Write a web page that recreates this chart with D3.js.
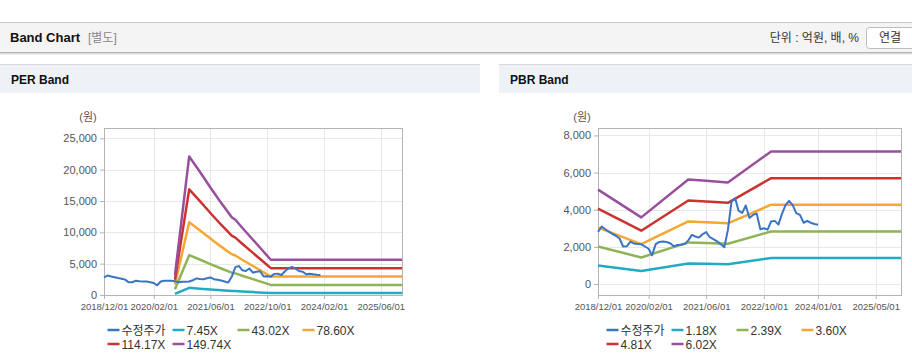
<!DOCTYPE html>
<html>
<head>
<meta charset="utf-8">
<script src="https://cdnjs.cloudflare.com/ajax/libs/d3/7.8.5/d3.min.js"></script>
<style>
body { margin: 0; background: #fff; }
svg { display: block; font-family: 'Liberation Sans', Arial, 'Noto Sans CJK KR', sans-serif; }
</style>
</head>
<body>
<svg id="canvas"></svg>
<script>
// adjusted price (shared by both charts)
let priceDates = [
  '2018-12',
  '2019-01','2019-02','2019-03','2019-04','2019-05','2019-06','2019-07','2019-08','2019-09','2019-10','2019-11','2019-12',
  '2020-01','2020-02','2020-03','2020-04','2020-05','2020-06','2020-07','2020-08','2020-09','2020-10','2020-11','2020-12',
  '2021-01','2021-02','2021-03','2021-04','2021-05','2021-06','2021-07','2021-08','2021-09','2021-10','2021-11','2021-12',
  '2022-01','2022-02','2022-03','2022-04','2022-05','2022-06','2022-07','2022-08','2022-09','2022-10','2022-11','2022-12',
  '2023-01','2023-02','2023-03','2023-04','2023-05','2023-06','2023-07','2023-08','2023-09','2023-10','2023-11','2023-12',
  '2024-01'
]
let prices = [
  2800,
  3100, 2950, 2830, 2700, 2600, 2450, 2020, 2030, 2280, 2180, 2150, 2140,
  2020, 1900, 1550, 2150, 2270, 2290, 2260, 2200, 2030, 2100, 2120, 2150,
  2350, 2650, 2560, 2500, 2680, 2800, 2520, 2420, 2300, 2150, 1980, 2900,
  4450, 4620, 3950, 3830, 4230, 3560, 3720, 3800, 2950, 3000, 2930, 3370,
  3400, 3200, 3750, 4250, 4480, 4250, 3820, 3720, 3300, 3400, 3300, 3230,
  3190
]

// PER band
let perNames = ['7.45X', '43.02X', '78.60X', '114.17X', '149.74X']
let perDates = ['2020-08','2020-12','2021-03','2021-06','2021-09','2021-12','2022-01','2022-03','2022-06','2022-09','2022-11','2025-12']
let per745 = [170, 1150, 1000, 880, 760, 650, 620, 560, 460, 370, 300, 300]
let per4302 = [920, 6350, 5660, 4930, 4225, 3560, 3450, 3080, 2530, 1980, 1615, 1615]
let per7860 = [1680, 11600, 10340, 9000, 7715, 6510, 6300, 5625, 4625, 3620, 2950, 2950]
let per11417 = [2440, 16850, 15020, 13080, 11210, 9455, 9150, 8175, 6720, 5260, 4285, 4285]
let per14974 = [3200, 22100, 19700, 17150, 14700, 12400, 12000, 10720, 8810, 6900, 5620, 5620]
let perYTicks = [0, 5000, 10000, 15000, 20000, 25000]
let perXTicks = ['2018-12','2020-02','2021-06','2022-10','2024-02','2025-06']

// PBR band
let pbrNames = ['1.18X', '2.39X', '3.60X', '4.81X', '6.02X']
let pbrDates = ['2018-12','2019-12','2021-01','2021-06','2021-12','2022-12','2025-12']
let pbr118 = [1000, 700, 1100, 1090, 1070, 1400, 1400]
let pbr239 = [2020, 1430, 2240, 2210, 2170, 2830, 2830]
let pbr360 = [3040, 2150, 3370, 3330, 3270, 4270, 4270]
let pbr481 = [4060, 2870, 4500, 4440, 4370, 5700, 5700]
let pbr602 = [5080, 3590, 5630, 5560, 5470, 7140, 7140]
let pbrYTicks = [0, 2000, 4000, 6000, 8000]
let pbrXTicks = ['2018-12','2020-02','2021-06','2022-10','2024-01','2025-05']

let priceColor = '#3a74c6'
let bandColors = ['#22abc3', '#8fb356', '#f4a733', '#cc3330', '#984f9c']

let width = 912
let height = 364
let parse = d3.timeParse('%Y-%m')

let svg = d3.select('#canvas')
svg.attr('width', width)
svg.attr('height', height)

// header bar
svg.append('rect').attr('x', 0).attr('y', 22).attr('width', width).attr('height', 31).attr('fill', '#f4f4f4')
svg.append('line').attr('x1', 0).attr('x2', width).attr('y1', 22.5).attr('y2', 22.5).attr('stroke', '#c8c8c8')
svg.append('line').attr('x1', 0).attr('x2', width).attr('y1', 52.5).attr('y2', 52.5).attr('stroke', '#b4b4b4')
svg.append('line').attr('x1', 0).attr('x2', width).attr('y1', 53.5).attr('y2', 53.5).attr('stroke', '#dadada')
svg.append('line').attr('x1', 0).attr('x2', width).attr('y1', 54.5).attr('y2', 54.5).attr('stroke', '#eeeeee')
svg.append('text').attr('x', 10).attr('y', 42).attr('font-size', 13).attr('font-weight', 'bold').attr('fill', '#111').text('Band Chart')
svg.append('text').attr('x', 88).attr('y', 42).attr('font-size', 12).attr('fill', '#888').text('[별도]')
svg.append('text').attr('x', 859).attr('y', 42).attr('font-size', 12).attr('fill', '#333').attr('text-anchor', 'end').text('단위 : 억원, 배, %')
svg.append('rect').attr('x', 866.5).attr('y', 27.5).attr('width', 60).attr('height', 21).attr('rx', 3)
  .attr('fill', '#fff').attr('stroke', '#bdbdbd')
svg.append('text').attr('x', 890).attr('y', 42).attr('font-size', 12).attr('fill', '#333').attr('text-anchor', 'middle').text('연결')

let drawPanel = (px, pw, title) => {
  svg.append('rect').attr('x', px).attr('y', 64).attr('width', pw).attr('height', 29).attr('fill', '#eef2f7')
  svg.append('line').attr('x1', px).attr('x2', px + pw).attr('y1', 64.5).attr('y2', 64.5).attr('stroke', '#d9d9d9')
  svg.append('text').attr('x', px + 11).attr('y', 84).attr('font-size', 12).attr('font-weight', 'bold').attr('fill', '#111').text(title)
}

let drawChart = (opt) => {
  let xScale = d3.scaleTime()
    .domain([parse('2018-12'), parse('2025-12')])
    .range([opt.left, opt.right])
  let yScale = d3.scaleLinear()
    .domain(opt.yDomain)
    .range([opt.bottom, opt.top])

  let g = svg.append('g')

  // grid
  g.selectAll('.hgrid').data(opt.yTicks).enter().append('line')
    .attr('x1', opt.left).attr('x2', opt.right)
    .attr('y1', (d) => Math.round(yScale(d)) + 0.5)
    .attr('y2', (d) => Math.round(yScale(d)) + 0.5)
    .attr('stroke', '#e8e8e8')
  g.selectAll('.vgrid').data(opt.xTicks).enter().append('line')
    .attr('x1', (d) => Math.round(xScale(parse(d))) + 0.5)
    .attr('x2', (d) => Math.round(xScale(parse(d))) + 0.5)
    .attr('y1', opt.top).attr('y2', opt.bottom)
    .attr('stroke', '#e8e8e8')

  g.append('rect')
    .attr('x', opt.left + 0.5).attr('y', opt.top + 0.5)
    .attr('width', opt.right - opt.left).attr('height', opt.bottom - opt.top)
    .attr('fill', 'none').attr('stroke', '#b4b4b4')

  let xAxis = d3.axisBottom(xScale)
    .tickValues(opt.xTicks.map(parse))
    .tickFormat(d3.timeFormat('%Y/%m/%d'))
    .tickSize(4).tickSizeOuter(0).tickPadding(4)
  let yAxis = d3.axisLeft(yScale)
    .tickValues(opt.yTicks)
    .tickFormat(d3.format(','))
    .tickSize(4).tickSizeOuter(0).tickPadding(3)

  let gx = g.append('g')
    .attr('transform', 'translate(0,' + opt.bottom + ')')
    .call(xAxis)
  gx.selectAll('text').attr('font-size', 9.5).attr('fill', '#555').attr('font-family', null)
  let gy = g.append('g')
    .attr('transform', 'translate(' + opt.left + ',0)')
    .call(yAxis)
  gy.selectAll('text').attr('font-size', 11).attr('fill', '#555').attr('font-family', null)
  g.selectAll('.domain').attr('stroke', '#b4b4b4')
  g.selectAll('.tick line').attr('stroke', '#b4b4b4')

  g.append('text').attr('x', opt.left - 16).attr('y', 121).attr('font-size', 11).attr('fill', '#555')
    .attr('text-anchor', 'middle').text('(원)')

  let line = d3.line()
    .x((d) => xScale(d[0]))
    .y((d) => yScale(d[1]))

  opt.bands.forEach((band, i) => {
    g.append('path')
      .datum(d3.zip(opt.bandDates.map(parse), band))
      .attr('d', line)
      .attr('fill', 'none')
      .attr('stroke', bandColors[i])
      .attr('stroke-width', 2.5)
      .attr('stroke-linejoin', 'round')
  })

  g.append('path')
    .datum(d3.zip(priceDates.map(parse), prices))
    .attr('d', line)
    .attr('fill', 'none')
    .attr('stroke', priceColor)
    .attr('stroke-width', 2)
    .attr('stroke-linejoin', 'round')

  // legend
  let items = ['수정주가'].concat(opt.names)
  let colors = [priceColor].concat(bandColors)
  let lg = g.selectAll('.legend').data(items).enter().append('g')
    .attr('transform', (d, i) => 'translate(' + (opt.legendX + (i % 4) * 65) + ',' + (330 + Math.floor(i / 4) * 14) + ')')
  lg.append('line')
    .attr('x1', 0).attr('x2', 12).attr('y1', 0).attr('y2', 0)
    .attr('stroke', (d, i) => colors[i]).attr('stroke-width', 2.5)
  lg.append('text')
    .attr('x', 14).attr('y', 4.5)
    .attr('font-size', 12).attr('fill', '#333')
    .text((d) => d)
}

drawPanel(0, 480, 'PER Band')
drawPanel(499, 413, 'PBR Band')

drawChart({
  left: 104, right: 402, top: 128, bottom: 295,
  yDomain: [0, 26640], yTicks: perYTicks, xTicks: perXTicks,
  bandDates: perDates, bands: [per745, per4302, per7860, per11417, per14974],
  names: perNames, legendX: 107.5
})

drawChart({
  left: 598, right: 901, top: 128, bottom: 295,
  yDomain: [-590, 8400], yTicks: pbrYTicks, xTicks: pbrXTicks,
  bandDates: pbrDates, bands: [pbr118, pbr239, pbr360, pbr481, pbr602],
  names: pbrNames, legendX: 606.5
})
</script>
</body>
</html>
